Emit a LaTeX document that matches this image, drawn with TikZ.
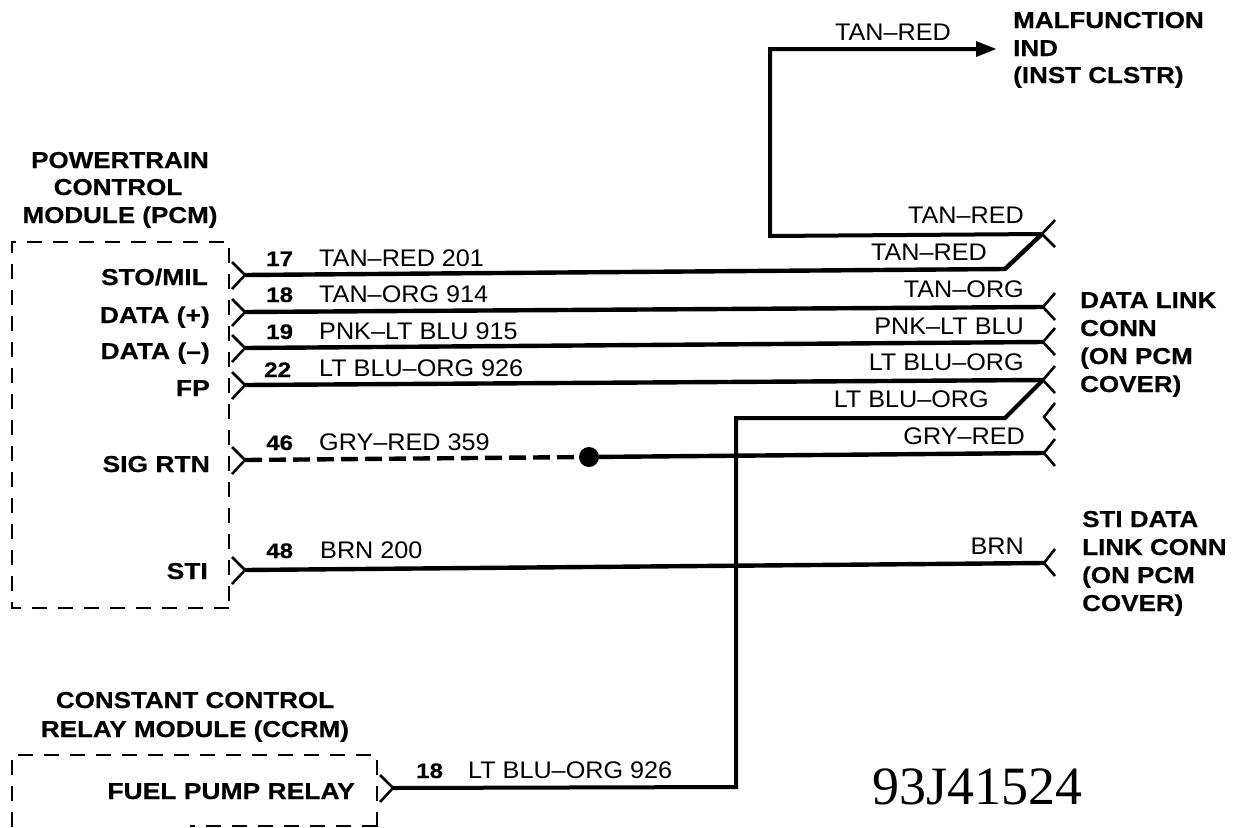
\documentclass[tikz,border=0pt]{standalone}
\usepackage{fontspec}
\setmainfont{Liberation Sans}
\newfontfamily\wfont[FakeStretch=1.05]{Liberation Sans}
\newfontfamily\bfontx[FakeStretch=1.15,FakeBold=0.5]{Liberation Sans Bold}
\newfontfamily\hfontx[FakeStretch=1.13,FakeBold=0.5]{Liberation Sans Bold}
\newfontfamily\sfontx{Liberation Serif}
\tikzset{
 wire/.style={line width=4.4pt,line join=miter,line cap=butt},
 vwire/.style={line width=4pt,line join=miter},
 chev/.style={line width=2.6pt,line join=miter},
 box/.style={line width=2pt,dash pattern=on 15pt off 11pt},
 wl/.style={inner sep=0pt,font=\wfont\fontsize{24}{24}\selectfont,anchor=base west},
 wr/.style={inner sep=0pt,font=\wfont\fontsize{24}{24}\selectfont,anchor=base east},
 pin/.style={inner sep=0pt,font=\bfontx\fontsize{23}{23}\selectfont,anchor=base east},
 num/.style={inner sep=0pt,font=\bfontx\fontsize{21}{21}\selectfont,anchor=base west},
 head/.style={inner sep=0pt,font=\hfontx\fontsize{23}{27.5}\selectfont,align=center,anchor=base},
 headl/.style={inner sep=0pt,font=\hfontx\fontsize{23}{28}\selectfont,align=left,anchor=base west},
}
\begin{document}
\begin{tikzpicture}[x=1pt,y=-1pt]
\useasboundingbox[fill=white] (0,0) rectangle (1246,827);
% boxes
\draw[box] (229,608) -- (12,608) -- (12,242) -- (229,242) -- (229,608);
\draw[box] (377,827) -- (377,755) -- (12,755) -- (12,827);
\draw[box] (377,826) -- (190,826);
% pin coordinates
\foreach \n/\y in {a/275,b/312,c/348,d/385,e/460,f/570}{\coordinate (L\n) at (245,\y);}
\coordinate (Lg) at (393,788);
\coordinate (Ra) at (1042,234);
\coordinate (Rb) at (1043,307);
\coordinate (Rc) at (1043,342);
\coordinate (Rd) at (1043,380);
\coordinate (Rx) at (1044,417);
\coordinate (Re) at (1044,453);
\coordinate (Rf) at (1044,563);
\coordinate (bendA) at (1005,269);
\coordinate (bendD) at (1005,418);
\coordinate (up) at (770,236);
\coordinate (top) at (770,49);
\coordinate (arr) at (976,49);
\coordinate (tip) at (996,49);
\coordinate (vtop) at (736,418);
\coordinate (vbot) at (736,787);
\node[circle,fill=black,minimum size=20pt,inner sep=0pt] (dot) at (589,457) {};
% chevrons
\foreach \n/\y in {a/275,b/312,c/348,d/385,e/460,f/570}{
 \draw[chev] (232,\y-13) -- (L\n) -- (232,\y+14);}
\draw[chev] (380,775) -- (Lg) -- (380,802);
\foreach \n/\y in {a/234,b/307,c/342,d/380,x/417,e/453,f/563}{
 \draw[chev] (1055,\y-14) -- (R\n) -- (1055,\y+13);}
% wires
\draw[wire] (La) -- (bendA) -- (Ra);
\draw[wire] (Lb) -- (Rb);
\draw[wire] (Lc) -- (Rc);
\draw[wire] (Ld) -- (Rd);
\draw[wire] (Lf) -- (Rf);
\draw[wire,dash pattern=on 17pt off 7pt] (Le) -- (dot);
\draw[wire] (dot) -- (Re);
\draw[vwire] (Ra) -- (up) -- (top) -- (arr);
\fill (tip) -- ([yshift=-8pt]arr) -- ([yshift=8pt]arr) -- cycle;
\draw[vwire] (Lg) -- (vbot) -- (vtop) -- (bendD) -- (Rd);
% pin names
\node[pin] (p1) at (208,285) {STO/MIL};
\node[pin] (p2) at (210,323) {DATA (+)};
\node[pin] (p3) at (210,359) {DATA (–)};
\node[pin] (p4) at (210,396) {FP};
\node[pin] (p5) at (210,472) {SIG RTN};
\node[pin] (p6) at (208,579) {STI};
\node[pin] (p7) at (355,799) {FUEL PUMP RELAY};
% numbers
\node[num] (n1) at (266,266) {17};
\node[num] (n2) at (266,302) {18};
\node[num] (n3) at (266,339) {19};
\node[num] (n4) at (264,377) {22};
\node[num] (n5) at (266,450) {46};
\node[num] (n6) at (266,558) {48};
\node[num] (n7) at (416,778) {18};
% wire labels
\node[wl] (w1) at (319,266) {TAN–RED 201};
\node[wl] (w2) at (319,302) {TAN–ORG 914};
\node[wl] (w3) at (319,339) {PNK–LT BLU 915};
\node[wl] (w4) at (319,376) {LT BLU–ORG 926};
\node[wl] (w5) at (319,450) {GRY–RED 359};
\node[wl] (w6) at (320,558) {BRN 200};
\node[wl] (w7) at (468,778) {LT BLU–ORG 926};
\node[wr] (r0) at (951,40) {TAN–RED};
\node[wr] (r1) at (1024,223) {TAN–RED};
\node[wr] (r2) at (987,260) {TAN–RED};
\node[wr] (r3) at (1024,297) {TAN–ORG};
\node[wr] (r4) at (1024,334) {PNK–LT BLU};
\node[wr] (r5) at (1024,370) {LT BLU–ORG};
\node[wr] (r6) at (989,407) {LT BLU–ORG};
\node[wr] (r7) at (1025,444) {GRY–RED};
\node[wr] (r8) at (1024,554) {BRN};
% headings
\node[head,anchor=base] (h1a) at (120,168) {POWERTRAIN};
\node[head,anchor=base] (h1b) at (118,195) {CONTROL};
\node[head,anchor=base] (h1c) at (120,223) {MODULE (PCM)};
\node[head] (h2a) at (195,708) {CONSTANT CONTROL};
\node[head] (h2b) at (195,737) {RELAY MODULE (CCRM)};
\node[headl] (h3a) at (1013,28) {MALFUNCTION};
\node[headl] (h3b) at (1013,56) {IND};
\node[headl] (h3c) at (1013,83) {(INST CLSTR)};
\node[headl] (h4a) at (1080,308) {DATA LINK};
\node[headl] (h4b) at (1080,336) {CONN};
\node[headl] (h4c) at (1080,364) {(ON PCM};
\node[headl] (h4d) at (1080,392) {COVER)};
\node[headl] (h5a) at (1082,527) {STI DATA};
\node[headl] (h5b) at (1082,555) {LINK CONN};
\node[headl] (h5c) at (1082,583) {(ON PCM};
\node[headl] (h5d) at (1082,611) {COVER)};
\node[inner sep=0pt,anchor=base,font=\sfontx\fontsize{54}{54}\selectfont] (code) at (977,804) {93J41524};
\end{tikzpicture}
\end{document}
